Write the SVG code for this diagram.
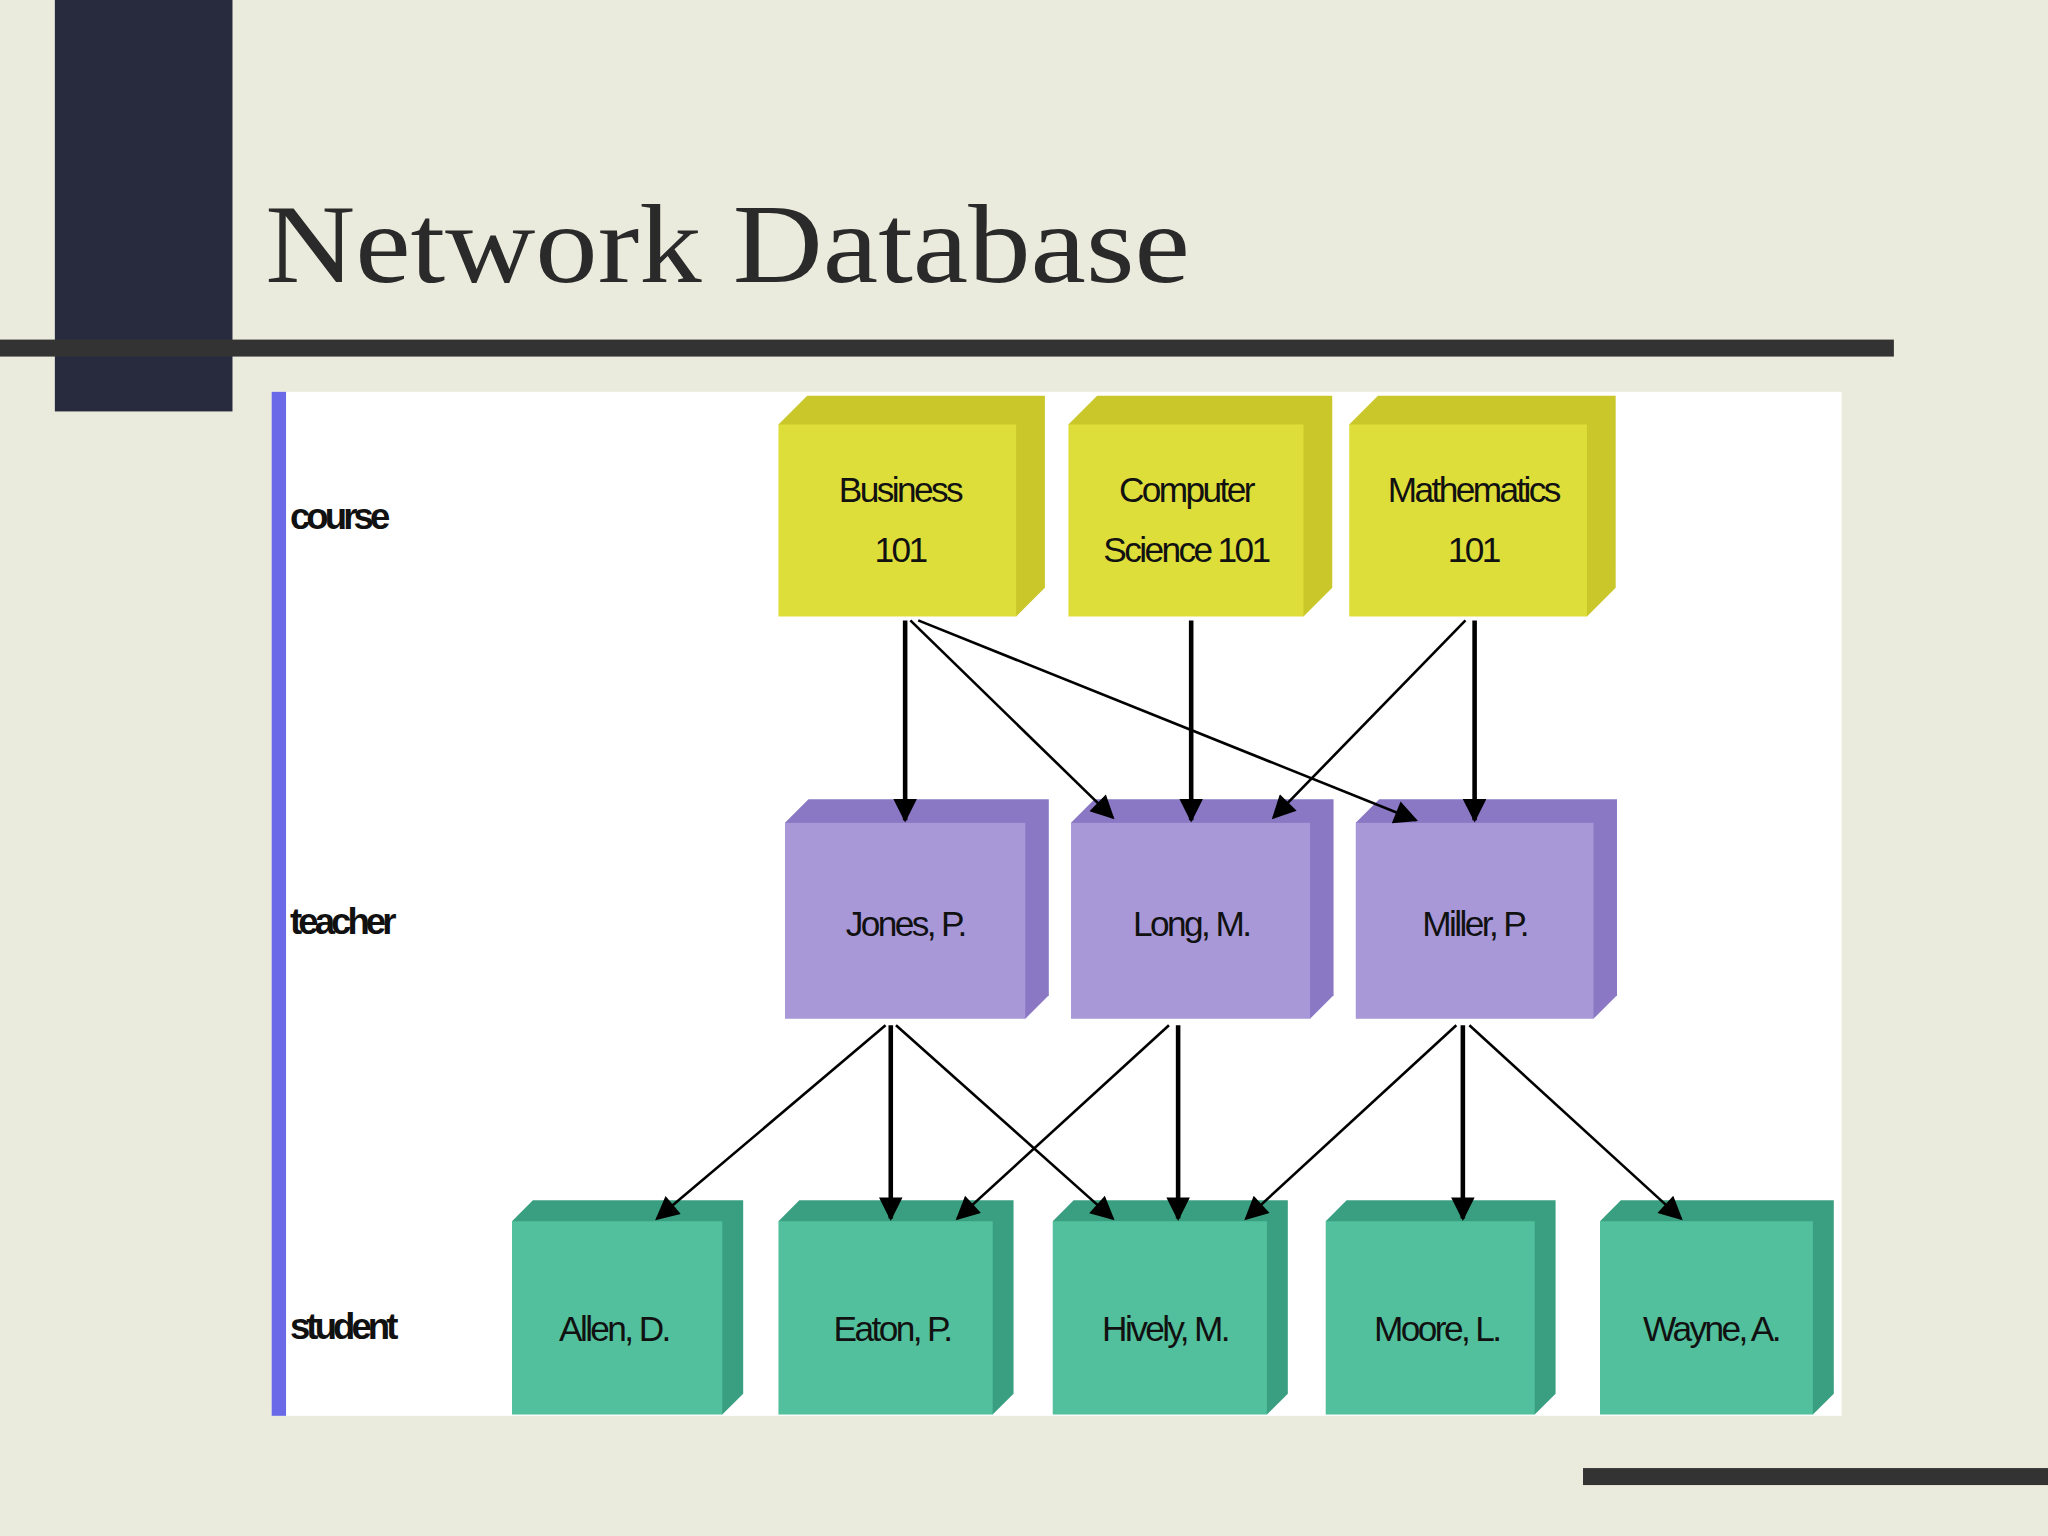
<svg xmlns="http://www.w3.org/2000/svg" width="2048" height="1536" viewBox="0 0 2048 1536">
<defs>
<style>
.lbl{font-family:"Liberation Sans",Arial,sans-serif;font-size:27px;fill:#111;letter-spacing:-2px}
.side{font-family:"Liberation Sans",Arial,sans-serif;font-size:28px;font-weight:bold;fill:#111;letter-spacing:-3px}
.c line{stroke:#000;stroke-width:2;marker-end:url(#ah)}
.c line.b{stroke-width:3.5}
</style>
<marker id="ah" viewBox="0 0 10 10" refX="9" refY="5" markerWidth="20" markerHeight="18" markerUnits="userSpaceOnUse" orient="auto"><path d="M0,0L10,5L0,10z" fill="#000"/></marker>
</defs>
<rect width="2048" height="1536" fill="#ebebdd"/>
<g transform="scale(1.30612)">
<rect x="42" y="0" width="136" height="315" fill="#272b3d"/>
<rect x="0" y="260" width="1450" height="13" fill="#333"/>
<rect x="1212" y="1124" width="356" height="13" fill="#333"/>
<text x="203" y="216" font-family="Liberation Serif,serif" font-size="86" fill="#2a2a2a" textLength="708" lengthAdjust="spacingAndGlyphs">Network Database</text>
<rect x="208" y="300" width="1202" height="784" fill="#fff"/>
<rect x="208" y="300" width="11" height="784" fill="#6a6ae8"/>
<text class="side" x="222" y="405">course</text>
<text class="side" x="222" y="715">teacher</text>
<text class="side" x="222" y="1025">student</text>
<g id="course">
<g id="business"><path d="M596,325 l22,-22 h182 v147 l-22,22z" fill="#c9c72a"/><rect x="596" y="325" width="182" height="147" fill="#dede3a"/><text class="lbl" x="689" y="384" text-anchor="middle">Business</text><text class="lbl" x="689" y="430" text-anchor="middle">101</text></g>
<g id="cs"><path d="M818,325 l22,-22 h180 v147 l-22,22z" fill="#c9c72a"/><rect x="818" y="325" width="180" height="147" fill="#dede3a"/><text class="lbl" x="908" y="384" text-anchor="middle">Computer</text><text class="lbl" x="908" y="430" text-anchor="middle">Science 101</text></g>
<g id="math"><path d="M1033,325 l22,-22 h182 v147 l-22,22z" fill="#c9c72a"/><rect x="1033" y="325" width="182" height="147" fill="#dede3a"/><text class="lbl" x="1128" y="384" text-anchor="middle">Mathematics</text><text class="lbl" x="1128" y="430" text-anchor="middle">101</text></g>
</g>
<g id="teacher">
<g id="jones"><path d="M601,630 l18,-18 h184 v150 l-18,18z" fill="#8a78c4"/><rect x="601" y="630" width="184" height="150" fill="#a898d8"/><text class="lbl" x="693" y="717" text-anchor="middle">Jones, P.</text></g>
<g id="long"><path d="M820,630 l18,-18 h183 v150 l-18,18z" fill="#8a78c4"/><rect x="820" y="630" width="183" height="150" fill="#a898d8"/><text class="lbl" x="912" y="717" text-anchor="middle">Long, M.</text></g>
<g id="miller"><path d="M1038,630 l18,-18 h182 v150 l-18,18z" fill="#8a78c4"/><rect x="1038" y="630" width="182" height="150" fill="#a898d8"/><text class="lbl" x="1129" y="717" text-anchor="middle">Miller, P.</text></g>
</g>
<g id="student">
<g id="allen"><path d="M392,935 l16,-16 h161 v148 l-16,16z" fill="#3a9f80"/><rect x="392" y="935" width="161" height="148" fill="#52c09c"/><text class="lbl" x="470" y="1027" text-anchor="middle">Allen, D.</text></g>
<g id="eaton"><path d="M596,935 l16,-16 h164 v148 l-16,16z" fill="#3a9f80"/><rect x="596" y="935" width="164" height="148" fill="#52c09c"/><text class="lbl" x="683" y="1027" text-anchor="middle">Eaton, P.</text></g>
<g id="hively"><path d="M806,935 l16,-16 h164 v148 l-16,16z" fill="#3a9f80"/><rect x="806" y="935" width="164" height="148" fill="#52c09c"/><text class="lbl" x="892" y="1027" text-anchor="middle">Hively, M.</text></g>
<g id="moore"><path d="M1015,935 l16,-16 h160 v148 l-16,16z" fill="#3a9f80"/><rect x="1015" y="935" width="160" height="148" fill="#52c09c"/><text class="lbl" x="1100" y="1027" text-anchor="middle">Moore, L.</text></g>
<g id="wayne"><path d="M1225,935 l16,-16 h163 v148 l-16,16z" fill="#3a9f80"/><rect x="1225" y="935" width="163" height="148" fill="#52c09c"/><text class="lbl" x="1310" y="1027" text-anchor="middle">Wayne, A.</text></g>
</g>
<g class="c" id="connectors">
<line class="b" x1="693" y1="475" x2="693" y2="628"/>
<line x1="697" y1="475" x2="852" y2="626"/>
<line x1="703" y1="475" x2="1084" y2="628"/>
<line class="b" x1="912" y1="475" x2="912" y2="628"/>
<line x1="1122" y1="475" x2="975" y2="626"/>
<line class="b" x1="1129" y1="475" x2="1129" y2="628"/>
<line x1="678" y1="785" x2="503" y2="933"/>
<line class="b" x1="682" y1="785" x2="682" y2="933"/>
<line x1="686" y1="785" x2="852" y2="933"/>
<line x1="895" y1="785" x2="733" y2="933"/>
<line class="b" x1="902" y1="785" x2="902" y2="933"/>
<line x1="1115" y1="785" x2="954" y2="933"/>
<line class="b" x1="1120" y1="785" x2="1120" y2="933"/>
<line x1="1125" y1="785" x2="1287" y2="933"/>
</g>
</g>
</svg>
